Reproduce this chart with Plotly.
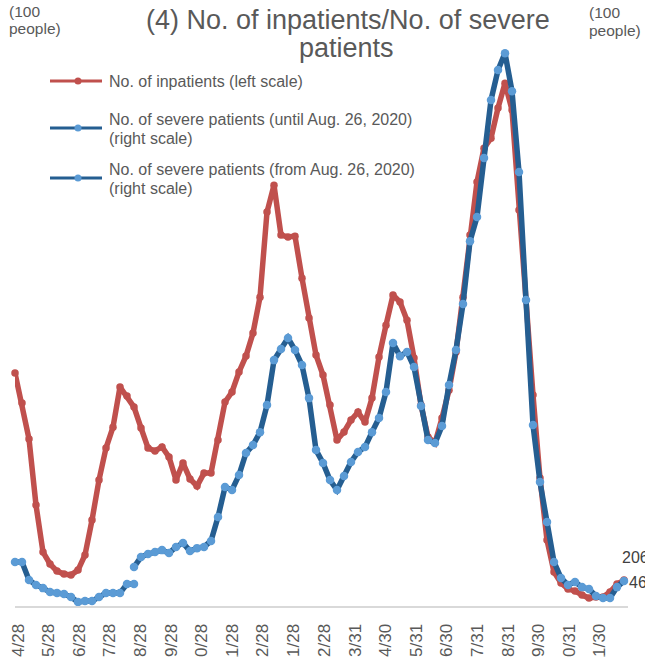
import plotly.graph_objects as go
import pandas as pd

# ---------------- data ----------------
dates = pd.date_range("2020-04-25", periods=88, freq="7D")

# No. of inpatients (left scale, 100 people)
inpatients = [
    111.5, 97.1, 79.9, 48.3, 25.8, 20.1, 16.7, 15.3, 14.8, 17.2,
    24.4, 41.1, 60.3, 75.6, 85.6, 104.8, 100.5, 95.2, 85.2, 75.6,
    74.2, 76.1, 71.3, 60.3, 68.4, 60.8, 57.4, 63.6, 63.6, 79.4,
    97.6, 102.4, 112.0, 119.6, 130.6, 147.8, 188.5, 201.4, 177.5, 176.6,
    177.0, 156.9, 137.8, 120.1, 110.5, 96.2, 79.4, 83.3, 89.0, 92.8,
    88.0, 99.5, 119.1, 134.4, 148.8, 145.5, 136.8, 118.7, 96.2, 80.9,
    78.0, 90.0, 103.3, 121.5, 147.8, 177.5, 202.9, 219.1, 223.9, 238.3,
    250.2, 237.3, 189.5, 146.4, 101.0, 61.2, 31.6, 16.3, 11.0, 8.1,
    7.2, 5.3, 3.8, 4.3, 4.3, 6.7, 10.5, 12.4,
]

# No. of severe patients until Aug. 26, 2020 (right scale, 100 people)
severe_until = [
    1.77, 1.77, 1.05, 0.85, 0.72, 0.56, 0.52, 0.48, 0.36, 0.16,
    0.20, 0.20, 0.36, 0.52, 0.52, 0.52, 0.89, 0.89,
]

# No. of severe patients from Aug. 26, 2020 (right scale, 100 people)
severe_from = [
    1.57, 1.97, 2.09, 2.17, 2.25, 2.13, 2.38, 2.54, 2.21, 2.33,
    2.38, 2.62, 3.58, 4.79, 4.67, 5.27, 6.16, 6.48, 7.00, 8.09,
    9.90, 10.35, 10.79, 10.31, 9.70, 8.37, 6.28, 5.76, 5.07, 4.67,
    5.23, 5.80, 6.20, 6.40, 7.00, 7.57, 8.62, 10.59, 10.06, 10.23,
    9.62, 8.05, 6.68, 6.56, 7.25, 8.90, 10.31, 12.16, 14.69, 15.66,
    18.04, 20.37, 21.58, 22.26, 20.73, 17.47, 12.32, 7.29, 4.99, 3.38,
    1.77, 1.13, 0.85, 0.97, 0.76, 0.68, 0.40, 0.32, 0.32, 0.76, 1.01,
]

dates_until = dates[:len(severe_until)]
dates_from = dates[len(severe_until) - 1:]

tick_dates = [
    "2020-04-28", "2020-05-28", "2020-06-28", "2020-07-28", "2020-08-28",
    "2020-09-28", "2020-10-28", "2020-11-28", "2020-12-28", "2021-01-28",
    "2021-02-28", "2021-03-31", "2021-04-30", "2021-05-31", "2021-06-30",
    "2021-07-31", "2021-08-31", "2021-09-30", "2021-10-31", "2021-11-30",
]
tick_labels = [
    "4/28", "5/28", "6/28", "7/28", "8/28", "9/28", "10/28", "11/28",
    "12/28", "1/28", "2/28", "3/31", "4/30", "5/31", "6/30", "7/31",
    "8/31", "9/30", "10/31", "11/30",
]

last_labels = ["206", "46"]

# ---------------- styling ----------------
W, H = 645, 657
L, R, T, B = 15, 17, 0, 51
PW, PH = W - L - R, H - T - B

RED = "#C0504D"
DARK_BLUE = "#255E91"
LIGHT_BLUE = "#5B9BD5"
TEXT = "#595959"
FONT = "Liberation Sans, Arial, sans-serif"


def px(x):
    return (x - L) / PW


def py(y):
    return (H - B - y) / PH


fig = go.Figure()

fig.add_trace(go.Scatter(
    x=dates, y=inpatients, mode="lines+markers", name="No. of inpatients (left scale)",
    line=dict(color=RED, width=5.5), marker=dict(color=RED, size=7.5),
    cliponaxis=False, yaxis="y",
))
fig.add_trace(go.Scatter(
    x=dates_until, y=severe_until, mode="lines+markers",
    name="No. of severe patients (until Aug. 26, 2020) (right scale)",
    line=dict(color=DARK_BLUE, width=5.5), marker=dict(color=LIGHT_BLUE, size=8.5),
    cliponaxis=False, yaxis="y2",
))
fig.add_trace(go.Scatter(
    x=dates_from, y=severe_from, mode="lines+markers",
    name="No. of severe patients (from Aug. 26, 2020) (right scale)",
    line=dict(color=DARK_BLUE, width=5.5), marker=dict(color=LIGHT_BLUE, size=8.5),
    cliponaxis=False, yaxis="y2",
))

annotations = []


def add_text(text, x, y, size, xanchor="left", color=TEXT):
    annotations.append(dict(
        text=text, x=px(x), y=py(y), xref="paper", yref="paper",
        xanchor=xanchor, yanchor="middle", showarrow=False,
        font=dict(family=FONT, size=size, color=color),
    ))


# title
add_text("(4) No. of inpatients/No. of severe", 348, 20, 27, "center")
add_text("patients", 346, 48, 27, "center")
# units
add_text("(100", 7, 11, 15.5)
add_text("people)", 7, 28, 15.5)
add_text("(100", 587, 12, 15.5)
add_text("people)", 587, 30, 15.5)
# legend texts
add_text("No. of inpatients (left scale)", 107, 81, 16)
add_text("No. of severe patients (until Aug. 26, 2020)", 107, 119, 16)
add_text("(right scale)", 107, 138, 16)
add_text("No. of severe patients (from Aug. 26, 2020)", 107, 170, 16)
add_text("(right scale)", 107, 188, 16)
# data labels at the end
add_text(last_labels[0], 620, 557, 16, color="#404040")
add_text(last_labels[1], 627, 582, 16, color="#404040")

shapes = []
for yy, lc, mc in [(81, RED, RED), (128, DARK_BLUE, LIGHT_BLUE), (178, DARK_BLUE, LIGHT_BLUE)]:
    shapes.append(dict(type="line", xref="paper", yref="paper",
                       x0=px(50), x1=px(102), y0=py(yy), y1=py(yy),
                       line=dict(color=lc, width=3)))
    shapes.append(dict(type="circle", xref="paper", yref="paper",
                       x0=px(74.5), x1=px(81.5), y0=py(yy + 3.5), y1=py(yy - 3.5),
                       fillcolor=mc, line=dict(width=0)))

fig.update_layout(
    width=W, height=H,
    margin=dict(l=L, r=R, t=T, b=B, autoexpand=False),
    paper_bgcolor="white", plot_bgcolor="white",
    showlegend=False,
    font=dict(family=FONT, color=TEXT),
    xaxis=dict(
        type="date", range=["2020-04-25", "2021-12-29"],
        tickmode="array", tickvals=tick_dates, ticktext=tick_labels,
        tickangle=-90, tickfont=dict(size=17, color=TEXT, family=FONT),
        showgrid=False, zeroline=False, showline=True,
        linecolor="#D9D9D9", linewidth=2, ticks="", ticklabelstandoff=9,
        automargin=False,
    ),
    yaxis=dict(range=[0, 290], showgrid=False, zeroline=False,
               showticklabels=False, showline=False, automargin=False),
    yaxis2=dict(range=[0, 24.4], overlaying="y", side="right", showgrid=False,
                zeroline=False, showticklabels=False, showline=False, automargin=False),
    annotations=annotations,
    shapes=shapes,
)

fig.write_html(
    "out.html",
    config={"displayModeBar": False},
    post_script="document.body.style.margin='0';document.body.style.overflow='hidden';",
)
